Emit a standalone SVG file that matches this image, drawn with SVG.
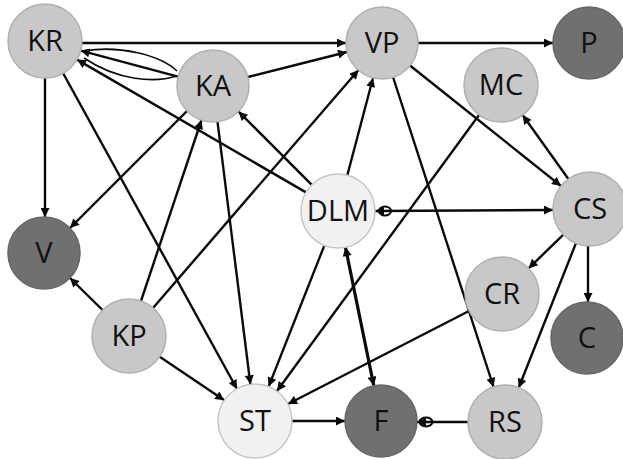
<svg xmlns="http://www.w3.org/2000/svg" width="623" height="459" viewBox="0 0 623 459">
<style>
.n circle{stroke-width:1.5}
.mid circle{fill:#c8c8c8;stroke:#b0b0b0}
.dark circle{fill:#707070;stroke:#666}
.light circle{fill:#f1f1f1;stroke:#c6c6c6}
.n text{font-family:"Open Sans","Noto Sans","DejaVu Sans",sans-serif;font-size:29px;fill:#111;text-anchor:middle}
#edges line,#edges path{stroke:#0a0a0a;stroke-width:2.4;fill:none}
#edges .thin{stroke-width:1.6}
#edges .thick{stroke-width:3.2}
#edges ellipse{fill:none;stroke:#0a0a0a;stroke-width:2}
.a{marker-end:url(#ah)}
.b{marker-end:url(#ah);marker-start:url(#ah)}
</style>
<defs>
<marker id="ah" viewBox="0 0 10 10" refX="10" refY="5" markerWidth="11" markerHeight="9" markerUnits="userSpaceOnUse" orient="auto-start-reverse"><path d="M0,0 L10,5 L0,10 z" fill="#0a0a0a"/></marker>
</defs>
<rect width="623" height="459" fill="#fff"/>
<g id="edges">
<line class="a" x1="82" y1="43" x2="346" y2="43"/>
<line class="a" x1="248" y1="77" x2="347" y2="52"/>
<line class="a" x1="418" y1="43" x2="553" y2="43"/>
<line class="a" x1="45" y1="78" x2="45" y2="217"/>
<line class="a" x1="63" y1="73" x2="237" y2="389"/>
<line class="a" x1="187" y1="111" x2="70" y2="228"/>
<line class="a" x1="141" y1="301" x2="201.5" y2="120"/>
<line class="a" x1="217.5" y1="121.7" x2="250.4" y2="384.3"/>
<line class="a" x1="311.8" y1="184.8" x2="238.5" y2="111.5"/>
<line class="a" x1="306" y1="192.4" x2="77" y2="59.6"/>
<line class="a" x1="178" y1="76.7" x2="80.7" y2="50.6"/>
<path class="thin" d="M177,71 C160,55 120,45 84,51"/>
<path class="thin" d="M177,76 C155,83 118,81 84,58"/>
<line class="a" x1="153" y1="308" x2="358.5" y2="70"/>
<line class="a" x1="347.4" y1="175" x2="373" y2="78"/>
<line class="a" x1="410" y1="65.5" x2="561" y2="186"/>
<line class="a" x1="568.4" y1="179" x2="522.6" y2="115"/>
<line class="a" x1="479" y1="115" x2="277" y2="391"/>
<line class="a" x1="393" y1="77" x2="493.6" y2="387"/>
<line class="b" x1="375" y1="211" x2="553" y2="210"/>
<ellipse cx="385" cy="211" rx="6" ry="4.5"/>
<line class="b thick" x1="345.4" y1="247" x2="373.8" y2="385.7"/>
<line class="a" x1="324.4" y1="245.4" x2="268.6" y2="386.6"/>
<line class="a" x1="469" y1="311" x2="288" y2="404"/>
<line class="a" x1="563.4" y1="234.7" x2="528.6" y2="268.3"/>
<line class="a" x1="588" y1="246" x2="588" y2="302"/>
<line class="a" x1="576" y1="243" x2="518.7" y2="387.7"/>
<line class="a" x1="292" y1="421" x2="345" y2="421"/>
<line class="a" x1="102.5" y1="310" x2="70" y2="278"/>
<line class="a" x1="159.7" y1="356.7" x2="224.3" y2="400.3"/>
<line class="a" x1="468" y1="422" x2="417" y2="422"/>
<ellipse cx="426" cy="422" rx="6.5" ry="4.5"/>
</g>
<g id="KR" class="n mid"><circle cx="45" cy="41" r="37"/><text x="45" y="51">KR</text></g>
<g id="KA" class="n mid"><circle cx="213" cy="86" r="36"/><text x="213" y="96">KA</text></g>
<g id="VP" class="n mid"><circle cx="382" cy="43" r="36"/><text x="382" y="53">VP</text></g>
<g id="P" class="n dark"><circle cx="589" cy="43" r="36"/><text x="589" y="53">P</text></g>
<g id="MC" class="n mid"><circle cx="501" cy="85" r="37"/><text x="501" y="95">MC</text></g>
<g id="DLM" class="n light"><circle cx="338" cy="211" r="37"/><text x="338" y="221">DLM</text></g>
<g id="CS" class="n mid"><circle cx="590" cy="209" r="37"/><text x="590" y="219">CS</text></g>
<g id="V" class="n dark"><circle cx="44" cy="253" r="36"/><text x="44" y="263">V</text></g>
<g id="KP" class="n mid"><circle cx="129" cy="336" r="37"/><text x="129" y="346">KP</text></g>
<g id="CR" class="n mid"><circle cx="502" cy="294" r="37"/><text x="502" y="304">CR</text></g>
<g id="C" class="n dark"><circle cx="587" cy="338" r="36"/><text x="587" y="348">C</text></g>
<g id="ST" class="n light"><circle cx="255" cy="421" r="37"/><text x="255" y="431">ST</text></g>
<g id="F" class="n dark"><circle cx="381" cy="421" r="36"/><text x="381" y="431">F</text></g>
<g id="RS" class="n mid"><circle cx="505" cy="422" r="37"/><text x="505" y="432">RS</text></g>
</svg>
